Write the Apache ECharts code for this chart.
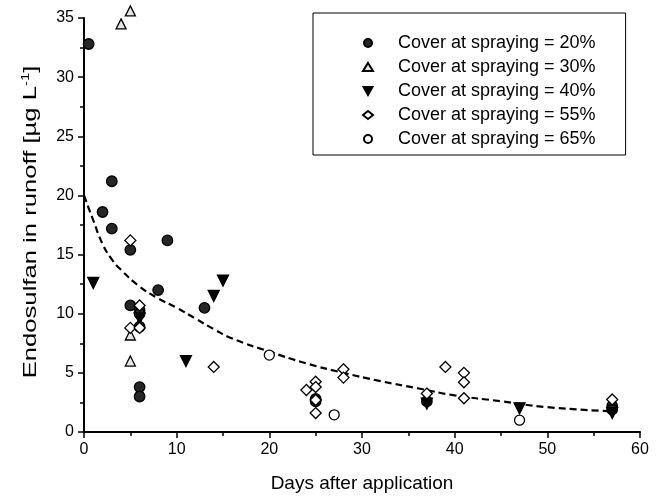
<!DOCTYPE html>
<html>
<head>
<meta charset="utf-8">
<script src="https://cdn.jsdelivr.net/npm/echarts@6/dist/echarts.min.js"></script>
<style>
  html, body { margin: 0; padding: 0; background: #fff; }
  #chart { width: 659px; height: 500px; }
</style>
</head>
<body>
<div id="chart"></div>
<script>
// values: [days, endosulfan]
var cover20 = [[0.5, 32.8], [2, 18.6], [3, 21.2], [3, 17.2], [5, 15.4], [5, 10.7],
    [6, 10.3], [6, 10.0], [6, 8.9], [6, 3.8], [6, 3.0], [8, 12.0], [9, 16.2],
    [13, 10.5], [25, 2.8], [25, 2.6], [37, 2.6], [57, 2.2], [57, 1.9]];
var cover30 = [[4, 34.5], [5, 35.6], [5, 8.2], [5, 6.0]];
var cover40 = [[1, 12.6], [6, 9.6], [11, 6.0], [14, 11.5], [15, 12.8], [37, 2.4],
    [47, 2.0], [57, 1.6]];
var cover55 = [[5, 16.2], [6, 10.7], [5, 8.8], [6, 8.8], [14, 5.5], [24, 3.55],
    [25, 4.25], [25, 3.8], [25, 2.7], [25, 1.6], [28, 5.3], [28, 4.6], [37, 3.25],
    [39, 5.5], [41, 5.0], [41, 4.2], [41, 2.85], [57, 2.75]];
var cover65 = [[20, 6.5], [27, 1.45], [47, 1.0]];
var fitCurve = [[0, 20.0], [1, 17.9], [2, 15.9], [3, 14.6], [4, 13.7], [6, 12.3],
    [8, 11.3], [10, 10.5], [12, 9.6], [14, 8.7], [16, 7.9], [20, 6.8], [24, 5.8],
    [28, 5.0], [32, 4.3], [36, 3.7], [40, 3.1], [45, 2.6], [50, 2.1], [57, 1.75]];
var seriesNames = ['Cover at spraying = 20%', 'Cover at spraying = 30%',
    'Cover at spraying = 40%', 'Cover at spraying = 55%', 'Cover at spraying = 65%'];

var font = "'Liberation Sans', Arial, sans-serif";
var chart = echarts.init(document.getElementById('chart'));

function scatter(name, data, symbol, size, fill, border, rotate) {
    return {
        name: name,
        type: 'scatter',
        data: data,
        symbol: symbol,
        symbolSize: size,
        symbolRotate: rotate || 0,
        symbolKeepAspect: true,
        clip: false,
        z: 3,
        itemStyle: {
            color: fill,
            borderColor: border,
            borderWidth: 1.3,
            opacity: 1
        }
    };
}

var option = {
    animation: false,
    backgroundColor: '#fff',
    grid: {
        left: 84,
        right: 19,
        top: 18,
        bottom: 68
    },
    legend: {
        orient: 'vertical',
        left: 313,
        top: 13,
        padding: [20, 30, 6, 49],
        itemWidth: 10,
        itemHeight: 8,
        itemGap: 4,
        borderColor: '#000',
        borderWidth: 1,
        selectedMode: false,
        data: [
            seriesNames[0],
            seriesNames[1],
            { name: seriesNames[2], icon: 'path://M0,0L10,0L5,9Z' },
            seriesNames[3],
            seriesNames[4]
        ],
        textStyle: {
            fontFamily: font,
            fontSize: 18,
            color: '#000',
            lineHeight: 20,
            padding: [0, 0, 0, 20]
        }
    },
    graphic: [{
        type: 'text',
        x: 31,
        y: 222,
        rotation: Math.PI / 2,
        scaleX: 1.35,
        style: {
            text: '{a|Endosulfan in runoff [µg L}{s|-1}{a|]}',
            align: 'center',
            verticalAlign: 'middle',
            fill: '#000',
            rich: {
                a: { fontFamily: font, fontSize: 19, fill: '#000', lineHeight: 22 },
                s: { fontFamily: font, fontSize: 11, fill: '#000', lineHeight: 22, verticalAlign: 'top', padding: [0, 0, 8, 0] }
            }
        }
    }],
    xAxis: {
        type: 'value',
        min: 0,
        max: 60,
        interval: 10,
        name: 'Days after application',
        nameLocation: 'middle',
        nameGap: 42,
        nameTextStyle: { fontFamily: font, fontSize: 19, color: '#000' },
        axisLine: { lineStyle: { color: '#000', width: 2 } },
        axisTick: { show: true, length: 6, lineStyle: { color: '#000', width: 1.5 } },
        minorTick: { show: true, splitNumber: 2, length: 4, lineStyle: { color: '#000', width: 1.5 } },
        splitLine: { show: false },
        axisLabel: { fontFamily: font, fontSize: 16, color: '#000', margin: 10 }
    },
    yAxis: {
        type: 'value',
        min: 0,
        max: 35,
        interval: 5,
        axisLine: { show: true, lineStyle: { color: '#000', width: 2 } },
        axisTick: { show: true, length: 6, lineStyle: { color: '#000', width: 1.5 } },
        minorTick: { show: true, splitNumber: 2, length: 4, lineStyle: { color: '#000', width: 1.5 } },
        splitLine: { show: false },
        axisLabel: { fontFamily: font, fontSize: 16, color: '#000', margin: 10 }
    },
    series: [
        {
            name: 'fit',
            type: 'line',
            data: fitCurve,
            smooth: true,
            showSymbol: false,
            symbol: 'none',
            z: 2,
            lineStyle: { color: '#000', width: 2.2, type: [7, 4] }
        },
        scatter(seriesNames[0], cover20, 'circle', 10.5, '#262626', '#000'),
        scatter(seriesNames[1], cover30, 'triangle', 10, '#e6e6e6', '#000'),
        scatter(seriesNames[2], cover40, 'triangle', 11, '#000', '#000', 180),
        scatter(seriesNames[3], cover55, 'diamond', 11, '#fff', '#000'),
        scatter(seriesNames[4], cover65, 'circle', 10, '#fff', '#000')
    ]
};

chart.setOption(option);
</script>
</body>
</html>
